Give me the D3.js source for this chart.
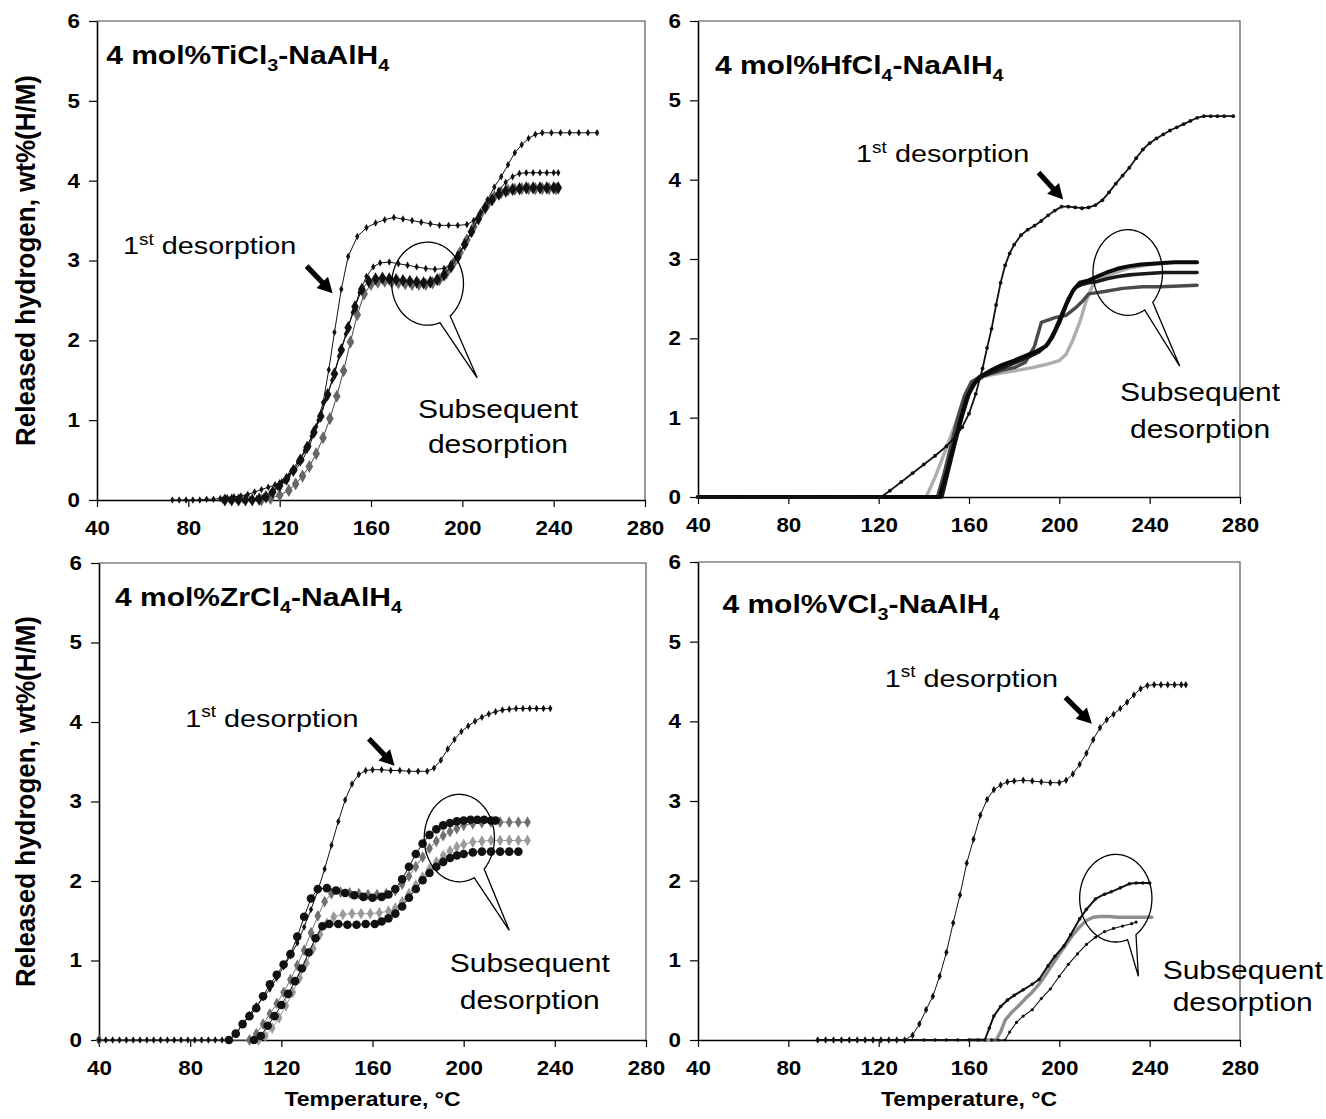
<!DOCTYPE html>
<html><head><meta charset="utf-8">
<script src="https://cdn.jsdelivr.net/npm/d3@7"></script>
<style>body{margin:0;background:#fff}svg{display:block}</style>
</head><body>
<svg id="chart" width="1326" height="1119"></svg>
<script>
// ---------------- DATA ----------------
const xTicks = [40, 80, 120, 160, 200, 240, 280];
const yTicks = [0, 1, 2, 3, 4, 5, 6];
const yTitle = "Released hydrogen, wt%(H/M)";
const xTitle = "Temperature, °C";

const panelTitles = [
  [["4 mol%TiCl", ""], ["3", "sub"], ["-NaAlH", ""], ["4", "sub"]],
  [["4 mol%HfCl", ""], ["4", "sub"], ["-NaAlH", ""], ["4", "sub"]],
  [["4 mol%ZrCl", ""], ["4", "sub"], ["-NaAlH", ""], ["4", "sub"]],
  [["4 mol%VCl", ""], ["3", "sub"], ["-NaAlH", ""], ["4", "sub"]]
];

// ---- TiCl3 panel ----
const tiFirst = [[73,0],[76,0],[79,0],[82,0],[85,0],[88,0.01],[91,0.01],[94,0.02],[97,0.03],[100,0.04],[103,0.05],[106,0.07],[109,0.1],[112,0.13],[115,0.16],[118,0.19],[121,0.23],[124,0.3],[127,0.38],[130,0.5],[133,0.67],[136,0.92],[139,1.22],[141.5,1.63],[144,2.1],[147,2.64],[150,3.05],[154,3.3],[158,3.41],[162,3.47],[166,3.51],[170,3.54],[174,3.52],[178,3.5],[182,3.48],[186,3.46],[190,3.44],[194,3.44],[198,3.44],[202,3.45],[205,3.5],[208,3.6],[211,3.76],[214,3.92],[217,4.05],[220,4.2],[223,4.35],[226,4.45],[229,4.53],[232,4.58],[235,4.6],[239,4.6],[243,4.6],[247,4.6],[251,4.6],[255,4.6],[259,4.6]];
const tiSecond = [[95,0],[98,0],[101,0],[104,0],[107,0.01],[110,0.02],[113,0.04],[116,0.09],[119,0.16],[122,0.24],[125,0.36],[128,0.48],[131,0.62],[134,0.8],[137,1.0],[140,1.25],[143,1.5],[146,1.8],[149,2.08],[152,2.35],[155,2.6],[158,2.8],[161,2.92],[164,2.97],[168,2.98],[172,2.96],[176,2.94],[180,2.92],[184,2.9],[188,2.89],[192,2.9],[195,2.96],[198,3.08],[201,3.2],[204,3.36],[207,3.52],[210,3.66],[213,3.78],[216,3.88],[219,3.98],[222,4.05],[225,4.09],[228,4.1],[231,4.1],[234,4.1],[237,4.1],[240,4.1],[242,4.1]];
const tiThird = [[96,0],[99,0],[102,0],[105,0],[108,0],[111,0.01],[114,0.04],[117,0.1],[120,0.18],[123,0.26],[126,0.37],[129,0.5],[132,0.66],[135,0.85],[138,1.05],[141,1.32],[144,1.58],[147,1.88],[150,2.16],[153,2.42],[156,2.64],[159,2.74],[162,2.77],[165,2.78],[168,2.77],[171,2.76],[174,2.75],[177,2.74],[180,2.73],[183,2.72],[186,2.73],[189,2.76],[192,2.82],[195,2.92],[198,3.04],[201,3.2],[204,3.36],[207,3.52],[210,3.66],[213,3.76],[216,3.83],[219,3.87],[222,3.89],[225,3.9],[228,3.91],[231,3.91],[234,3.91],[237,3.91],[240,3.91],[242,3.91]];
const tiFourth = [[112,0],[116,0.02],[120,0.06],[124,0.12],[127,0.2],[130,0.3],[133,0.42],[136,0.58],[139,0.78],[142,1.02],[145,1.3],[148,1.62],[151,1.98],[154,2.32],[157,2.58],[160,2.7],[163,2.73],[166,2.74],[169,2.73],[172,2.72],[175,2.71],[178,2.7],[181,2.7],[184,2.7],[187,2.72],[190,2.76],[193,2.84],[196,2.96],[199,3.1],[202,3.26],[205,3.42],[208,3.58],[211,3.7],[214,3.8],[217,3.85],[220,3.88],[223,3.89],[226,3.9],[229,3.9],[232,3.9],[235,3.9],[238,3.9],[241,3.9]];

// ---- HfCl4 panel ----
const hfFirst = [[40,0],[43,0],[46,0],[49,0],[52,0],[55,0],[58,0],[61,0],[64,0],[67,0],[70,0],[73,0],[76,0],[79,0],[82,0],[85,0],[88,0],[91,0],[94,0],[97,0],[100,0],[103,0],[106,0],[109,0],[112,0],[115,0],[118,0],[121,0],[125,0.08],[130,0.19],[135,0.3],[140,0.41],[145,0.52],[150,0.64],[154,0.76],[157,0.88],[160,1.05],[163,1.3],[166,1.62],[168,1.88],[170,2.12],[172,2.42],[174,2.7],[176,2.92],[178,3.07],[180,3.18],[183,3.3],[186,3.37],[189,3.42],[192,3.48],[195,3.55],[198,3.61],[201,3.66],[204,3.66],[207,3.65],[210,3.64],[213,3.65],[216,3.68],[219,3.74],[222,3.84],[225,3.95],[228,4.05],[231,4.15],[234,4.27],[237,4.38],[240,4.46],[243,4.52],[246,4.57],[249,4.62],[252,4.66],[255,4.7],[258,4.74],[261,4.78],[264,4.8],[267,4.8],[270,4.8],[273,4.8],[277,4.8]];
const hfSecondA = [[40,0],[147,0],[150,0.3],[153,0.62],[156,0.95],[159,1.25],[162,1.42],[165,1.52],[170,1.6],[175,1.67],[180,1.72],[185,1.78],[190,1.84],[194,1.9],[197,2.02],[200,2.2],[203,2.42],[206,2.6],[209,2.7],[213,2.73],[217,2.78],[221,2.83],[226,2.88],[231,2.91],[236,2.93],[241,2.94],[246,2.95],[251,2.96],[256,2.96],[261,2.96]];
const hfSecondB = [[40,0],[148,0],[151,0.35],[154,0.7],[157,1.02],[160,1.3],[163,1.45],[166,1.52],[171,1.58],[176,1.64],[181,1.7],[186,1.76],[191,1.83],[195,1.93],[198,2.1],[201,2.3],[204,2.5],[207,2.64],[210,2.68],[213,2.7],[217,2.72],[221,2.75],[226,2.78],[231,2.8],[236,2.81],[241,2.82],[246,2.83],[251,2.83],[256,2.83],[261,2.83]];
const hfSecondC = [[40,0],[146,0],[149,0.3],[152,0.65],[155,1.0],[158,1.28],[161,1.45],[165,1.52],[170,1.56],[175,1.6],[180,1.63],[185,1.7],[189,1.9],[192,2.2],[194,2.22],[198,2.26],[203,2.29],[207,2.38],[210,2.46],[213,2.56],[220,2.59],[228,2.63],[237,2.65],[245,2.65],[253,2.66],[261,2.67]];
const hfSecondD = [[40,0],[141,0],[145,0.25],[150,0.62],[155,1.0],[158,1.25],[161,1.42],[164,1.5],[170,1.54],[176,1.57],[182,1.6],[188,1.63],[194,1.67],[200,1.72],[203,1.8],[206,1.98],[209,2.2],[212,2.48],[215,2.68],[218,2.74],[222,2.8],[227,2.85],[232,2.89],[238,2.92],[243,2.94],[247,2.95]];

// ---- ZrCl4 panel ----
const zrFirst = [[40,0],[43,0],[46,0],[49,0],[52,0],[55,0],[58,0],[61,0],[64,0],[67,0],[70,0],[73,0],[76,0],[79,0],[82,0],[85,0],[88,0],[91,0],[94,0],[97,0],[100,0.07],[103,0.2],[106,0.32],[109,0.43],[112,0.53],[115,0.64],[118,0.78],[121,0.92],[124,1.06],[127,1.22],[130,1.42],[133,1.64],[136,1.88],[139,2.15],[142,2.45],[145,2.75],[148,3.02],[151,3.22],[154,3.34],[157,3.39],[160,3.4],[164,3.4],[168,3.39],[172,3.39],[176,3.38],[180,3.38],[184,3.38],[187,3.42],[190,3.52],[193,3.66],[196,3.78],[199,3.88],[202,3.95],[205,4.01],[208,4.06],[211,4.1],[214,4.13],[217,4.15],[220,4.16],[223,4.17],[226,4.17],[229,4.17],[232,4.17],[235,4.17],[238,4.17]];
const zrSecondA = [[97,0],[100,0.08],[103,0.2],[106,0.3],[109,0.4],[112,0.55],[115,0.7],[118,0.82],[121,0.95],[124,1.08],[127,1.3],[130,1.55],[133,1.78],[136,1.9],[140,1.91],[144,1.88],[148,1.85],[152,1.82],[156,1.8],[160,1.79],[164,1.8],[167,1.83],[170,1.9],[173,2.02],[176,2.18],[179,2.34],[182,2.47],[185,2.58],[188,2.65],[191,2.7],[194,2.73],[197,2.75],[200,2.76],[203,2.77],[206,2.77],[209,2.77],[212,2.76],[214,2.76]];
const zrSecondB = [[40,0],[106,0],[109,0.08],[112,0.2],[115,0.33],[118,0.46],[121,0.6],[124,0.76],[127,0.94],[130,1.13],[133,1.35],[136,1.56],[139,1.74],[142,1.84],[146,1.86],[150,1.85],[154,1.84],[158,1.83],[162,1.83],[166,1.84],[170,1.88],[173,1.96],[176,2.06],[179,2.18],[182,2.3],[185,2.41],[188,2.5],[191,2.57],[194,2.62],[197,2.66],[200,2.7],[204,2.72],[208,2.73],[212,2.74],[216,2.74],[220,2.74],[224,2.74],[228,2.74]];
const zrSecondC = [[110,0],[113,0.05],[116,0.15],[119,0.28],[122,0.43],[125,0.6],[128,0.78],[131,0.97],[134,1.15],[137,1.33],[140,1.47],[143,1.55],[147,1.58],[151,1.59],[155,1.59],[159,1.59],[163,1.6],[167,1.62],[170,1.66],[173,1.74],[176,1.84],[179,1.95],[182,2.05],[185,2.15],[188,2.24],[191,2.32],[194,2.38],[197,2.43],[200,2.46],[204,2.49],[208,2.5],[212,2.51],[216,2.51],[220,2.51],[224,2.51],[228,2.51]];
const zrSecondD = [[108,0],[111,0.05],[114,0.18],[117,0.3],[120,0.44],[123,0.58],[126,0.74],[129,0.9],[132,1.1],[135,1.28],[138,1.43],[141,1.46],[145,1.46],[149,1.45],[153,1.45],[157,1.46],[161,1.46],[164,1.49],[167,1.53],[170,1.59],[173,1.68],[176,1.79],[179,1.9],[182,2.01],[185,2.1],[188,2.18],[191,2.24],[194,2.29],[197,2.32],[200,2.34],[204,2.36],[208,2.37],[212,2.37],[216,2.37],[220,2.37],[224,2.37]];

// ---- VCl3 panel ----
const vFirst = [[93,0],[96.5,0],[100,0],[103.5,0],[107,0],[110.5,0],[114,0],[117.5,0],[121,0],[124.5,0],[128,0],[131.5,0],[135,0.06],[138,0.2],[141,0.38],[144,0.55],[147,0.8],[150,1.1],[153,1.47],[156,1.82],[159,2.22],[162,2.52],[165,2.82],[168,3.02],[171,3.14],[174,3.2],[177,3.24],[180,3.25],[184,3.26],[188,3.25],[192,3.24],[196,3.23],[200,3.23],[203,3.26],[206,3.34],[209,3.46],[212,3.6],[215,3.77],[218,3.92],[221,4.02],[224,4.09],[227,4.16],[230,4.24],[233,4.33],[236,4.41],[239,4.45],[242,4.46],[245,4.46],[248,4.46],[251,4.46],[254,4.46],[256,4.46]];
const vSecondA = [[93,0],[140,0],[145,0],[150,0],[155,0],[160,0],[164,0],[167,0],[169,0.15],[171,0.3],[174,0.42],[177,0.5],[180,0.56],[184,0.63],[188,0.7],[191,0.76],[195,0.93],[198,1.05],[202,1.18],[205,1.32],[209,1.52],[212,1.64],[216,1.77],[220,1.83],[223,1.86],[227,1.91],[231,1.96],[234,1.97],[237,1.97],[240,1.97]];
const vSecondB = [[160,0],[165,0],[169,0],[172,0],[174,0.1],[176,0.25],[179,0.35],[182,0.43],[185,0.52],[188,0.6],[191,0.7],[194,0.82],[197,0.95],[200,1.08],[203,1.2],[206,1.32],[209,1.42],[212,1.5],[215,1.54],[218,1.55],[222,1.55],[226,1.54],[230,1.54],[234,1.54],[238,1.54],[241,1.54]];
const vSecondC = [[170,0],[173,0],[176,0],[178,0.1],[181,0.22],[184,0.3],[188,0.38],[192,0.52],[196,0.64],[200,0.8],[204,0.95],[208,1.08],[212,1.2],[216,1.29],[220,1.36],[224,1.4],[228,1.43],[232,1.46],[234,1.48]];

// annotation anchors, in data units (temperature, wt%)
const firstLabel = [[51.4,3.08],[110,4.22],[77.8,3.94],[122.7,4.43]];
const arrowEnds = [[[131.8,2.93],[143.2,2.59]],[[190.8,4.09],[201.7,3.75]],[[158.4,3.79],[169.7,3.45]],[[202.7,4.3],[214.4,3.97]]];
const bubbleCenter = [[184.8,2.71],[230.3,2.83],[198.1,2.54],[225,1.78]];
const bubbleRadius = [[15.7,0.52],[15.4,0.54],[15.4,0.55],[16,0.55]];
const bubbleGapDeg = [[51,70],[44,61],[45,65],[56,71]];
const bubbleTip = [[206.5,1.53],[253.3,1.65],[220,1.38],[235,0.8]];
const subsLabel = [[215.6,1.03,0.59],[262.3,1.21,0.74],[229,0.86,0.39],[281.2,0.77,0.36]];
const titlePos = [[44,5.46],[47.5,5.33],[47,5.46],[50.8,5.36]];

// ---------------- LAYOUT & STYLE ----------------
const panels = [
  {x0:97, x1:645, y0:500, y1:21},
  {x0:698, x1:1240, y0:497, y1:21},
  {x0:99, x1:646, y0:1040, y1:563},
  {x0:698, x1:1240, y0:1040, y1:562}
];
const FONT = "'Liberation Sans', Arial, Helvetica, sans-serif";
const SX = 1.2;

const styles = {
  smallDia:  {stroke:"#111", sw:1, marker:"dia", msize:16, mfill:"#111"},
  bigDia:    {stroke:"#111", sw:1, marker:"dia", msize:50, mfill:"#111"},
  bigDiaG:   {stroke:"#444", sw:1, marker:"dia", msize:50, mfill:"#666"},
  dense:     {stroke:"#111", sw:1.8, marker:"circ", msize:1.9, mfill:"#111"},
  thickK:    {stroke:"#0a0a0a", sw:4, marker:null},
  thickK2:   {stroke:"#1a1a1a", sw:3.6, marker:null},
  thickDG:   {stroke:"#4a4a4a", sw:3.4, marker:null},
  thickLG:   {stroke:"#adadad", sw:3.4, marker:null},
  circK:     {stroke:"#111", sw:1, marker:"circ", msize:4.3, mfill:"#111"},
  diaG:      {stroke:"#777", sw:1, marker:"dia", msize:40, mfill:"#707070"},
  diaLG:     {stroke:"#999", sw:1, marker:"dia", msize:40, mfill:"#9a9a9a"},
  vTop:      {stroke:"#111", sw:2, marker:"circ", msize:1.8, mfill:"#111"},
  vGray:     {stroke:"#8e8e8e", sw:3.4, marker:null},
  vLow:      {stroke:"#111", sw:1.1, marker:"circ", msize:1.6, mfill:"#111"}
};

const seriesByPanel = [
  [[tiFourth,"bigDiaG"],[tiThird,"bigDia"],[tiSecond,"smallDia"],[tiFirst,"smallDia"]],
  [[hfSecondD,"thickLG"],[hfSecondC,"thickDG"],[hfSecondB,"thickK2"],[hfSecondA,"thickK"],[hfFirst,"dense"]],
  [[zrSecondC,"diaLG"],[zrSecondB,"diaG"],[zrSecondD,"circK"],[zrSecondA,"circK"],[zrFirst,"smallDia"]],
  [[vSecondB,"vGray"],[vSecondC,"vLow"],[vSecondA,"vTop"],[vFirst,"smallDia"]]
];

// ---------------- DRAW ----------------
const svg = d3.select("#chart");

function richText(g, px, py, parts, size, weight, anchor) {
  const t = g.append("text")
    .attr("transform", `translate(${px},${py}) scale(${SX},1)`)
    .attr("font-family", FONT).attr("font-size", size)
    .attr("font-weight", weight).attr("text-anchor", anchor || "start")
    .attr("fill", "#000");
  let shift = 0;
  parts.forEach(([txt, mode]) => {
    const ts = t.append("tspan").text(txt);
    const target = mode === "sub" ? size * 0.28 : mode === "sup" ? -size * 0.4 : 0;
    ts.attr("dy", target - shift);
    shift = target;
    if (mode) ts.attr("font-size", size * 0.66);
  });
  return t;
}

panels.forEach((p, i) => {
  const x = d3.scaleLinear().domain([40, 280]).range([p.x0, p.x1]);
  const y = d3.scaleLinear().domain([0, 6]).range([p.y0, p.y1]);
  const g = svg.append("g");

  g.append("path").attr("d", `M${p.x0},${p.y1}H${p.x1}V${p.y0}`)
    .attr("fill", "none").attr("stroke", "#444").attr("stroke-width", 1.1);

  const ya = g.append("g").attr("transform", `translate(${p.x0},0)`)
    .call(d3.axisLeft(y).tickValues(yTicks).tickFormat(d3.format("d")).tickSizeInner(8).tickSizeOuter(0).tickPadding(9));
  ya.select(".domain").attr("stroke", "#000").attr("stroke-width", 1.6);
  ya.selectAll(".tick line").attr("stroke", "#000").attr("stroke-width", 1.2);
  ya.selectAll(".tick text")
    .attr("font-family", FONT).attr("font-size", 20).attr("font-weight", "bold").attr("fill", "#000")
    .attr("x", -17 / 1.12).attr("transform", "scale(1.12,1)");

  const xa = g.append("g").attr("transform", `translate(0,${p.y0})`)
    .call(d3.axisBottom(x).tickValues(xTicks).tickFormat(d3.format("d")).tickSizeInner(7).tickSizeOuter(0).tickPadding(14));
  xa.select(".domain").attr("stroke", "#000").attr("stroke-width", 1.6);
  xa.selectAll(".tick line").attr("stroke", "#000").attr("stroke-width", 1.2);
  xa.selectAll(".tick text")
    .attr("font-family", FONT).attr("font-size", 20).attr("font-weight", "bold").attr("fill", "#000")
    .attr("transform", "scale(1.12,1)");

  const line = d3.line().x(d => x(d[0])).y(d => y(d[1]));
  seriesByPanel[i].forEach(([data, key]) => {
    const st = styles[key];
    g.append("path").datum(data).attr("d", line)
      .attr("fill", "none").attr("stroke", st.stroke).attr("stroke-width", st.sw)
      .attr("stroke-linejoin", "round").attr("stroke-linecap", "round");
    if (st.marker === "dia") {
      const sym = d3.symbol(d3.symbolDiamond).size(st.msize);
      g.append("g").selectAll("path").data(data).join("path")
        .attr("d", sym).attr("transform", d => `translate(${x(d[0])},${y(d[1])})`)
        .attr("fill", st.mfill);
    } else if (st.marker === "circ") {
      g.append("g").selectAll("circle").data(data).join("circle")
        .attr("cx", d => x(d[0])).attr("cy", d => y(d[1])).attr("r", st.msize)
        .attr("fill", st.mfill);
    }
  });

  richText(g, x(titlePos[i][0]), y(titlePos[i][1]), panelTitles[i], 25, "bold");

  richText(g, x(firstLabel[i][0]), y(firstLabel[i][1]),
    [["1", ""], ["st", "sup"], [" desorption", ""]], 24, "normal");

  const [ta, ha] = arrowEnds[i];
  const tx = x(ta[0]), ty = y(ta[1]), hx = x(ha[0]), hy = y(ha[1]);
  const len = Math.hypot(hx - tx, hy - ty), ux = (hx - tx) / len, uy = (hy - ty) / len;
  const nx = -uy, ny = ux, L = 15, HW = 8, SW = 2.6;
  const bx = hx - ux * L, by = hy - uy * L;
  const pts = [
    [tx + nx * SW, ty + ny * SW], [bx + nx * SW, by + ny * SW], [bx + nx * HW, by + ny * HW],
    [hx, hy], [bx - nx * HW, by - ny * HW], [bx - nx * SW, by - ny * SW], [tx - nx * SW, ty - ny * SW]
  ];
  g.append("polygon").attr("points", pts.map(q => q.join(",")).join(" ")).attr("fill", "#000");

  const cx = x(bubbleCenter[i][0]), cy = y(bubbleCenter[i][1]);
  const rx = x(bubbleCenter[i][0] + bubbleRadius[i][0]) - cx;
  const ry = cy - y(bubbleCenter[i][1] + bubbleRadius[i][1]);
  const [g1, g2] = bubbleGapDeg[i];
  const bp = [];
  for (let a = g2; a <= g1 + 360; a += 3) {
    const r = a * Math.PI / 180;
    bp.push([cx + rx * Math.cos(r), cy + ry * Math.sin(r)]);
  }
  const rEnd = (g1 + 360) * Math.PI / 180;
  bp.push([cx + rx * Math.cos(rEnd), cy + ry * Math.sin(rEnd)]);
  bp.push([x(bubbleTip[i][0]), y(bubbleTip[i][1])]);
  g.append("path").attr("d", "M" + bp.map(q => q.join(",")).join("L") + "Z")
    .attr("fill", "none").attr("stroke", "#000").attr("stroke-width", 1.3).attr("stroke-linejoin", "miter");

  richText(g, x(subsLabel[i][0]), y(subsLabel[i][1]), [["Subsequent", ""]], 25, "normal", "middle");
  richText(g, x(subsLabel[i][0]), y(subsLabel[i][2]), [["desorption", ""]], 25, "normal", "middle");

  if (i === 0 || i === 2) {
    svg.append("text")
      .attr("transform", `translate(35,${(p.y0 + p.y1) / 2}) scale(1.05,1) rotate(-90)`)
      .attr("text-anchor", "middle").attr("font-family", FONT).attr("font-size", 26)
      .attr("font-weight", "bold").attr("fill", "#000").text(yTitle);
  }
  if (i >= 2) {
    svg.append("text")
      .attr("transform", `translate(${(p.x0 + p.x1) / 2},1106) scale(1.15,1)`)
      .attr("text-anchor", "middle").attr("font-family", FONT).attr("font-size", 20)
      .attr("font-weight", "bold").attr("fill", "#000").text(xTitle);
  }
});
</script>
</body></html>
